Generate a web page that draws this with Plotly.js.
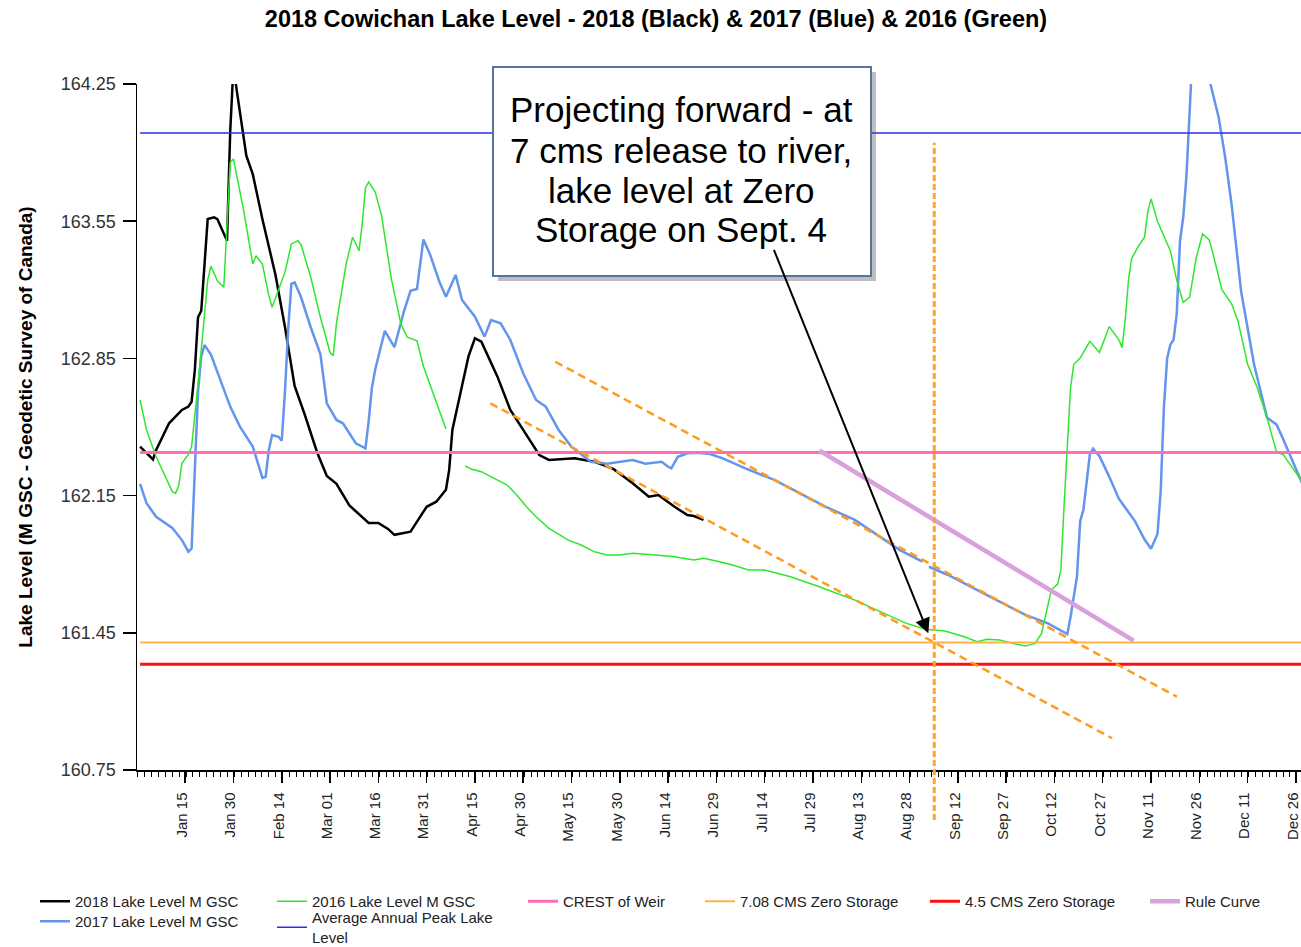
<!DOCTYPE html>
<html><head><meta charset="utf-8">
<script src="https://cdn.plot.ly/plotly-3.0.1.min.js"></script>
<style>html,body{margin:0;padding:0;background:#fff}#chart{width:1301px;height:947px}</style>
</head><body><div id="chart"></div>
<script>
// ---- data (day index from Jan 1, level in m GSC) ----
const days2018 = [0,4,5,9,13,15,16,17,18,19,21,23,24,26,27,28,29,30,31,32,33,35,38,42,45,48,51,55,58,61,65,71,74,77,79,84,86,89,92,95,96,97,100,102,104,106,111,115,119,124,127,135,141,147,153,158,161,166,170,172,175];
const level2018 = [162.40,162.335,162.383,162.519,162.587,162.604,162.629,162.79,163.06,163.093,163.561,163.57,163.561,163.49,163.45,164.01,164.34,164.22,164.11,163.99,163.884,163.79,163.56,163.28,163.01,162.71,162.57,162.37,162.25,162.21,162.10,162.01,162.01,161.98,161.95,161.966,162.017,162.093,162.119,162.18,162.28,162.485,162.71,162.86,162.953,162.935,162.757,162.587,162.485,162.357,162.332,162.34,162.323,162.286,162.213,162.144,162.153,162.093,162.051,162.046,162.026];

const days2017 = [0,2,5,8,10,13,15,16,17,18,19,20,22,25,28,31,35,38,39,40,41,43,44,45,46,47,48,50,53,56,58,61,63,67,70,71,72,73,76,79,82,84,86,88,90,93,95,98,100,104,107,109,112,115,119,123,126,130,134,138,140,145,149,153,157,162,164,165,167,170,173,177,181,188,197,205,213,222,230,236,243,244,245,251,259,267,275,282,288,289,291,292,293,295,296,298,301,304,309,312,314,316,317,318,319,320,321,322,323,324,325,326,327,328,329,330,331,332,333,335,337,339,342,346,350,353,355,357,361,364];
const level2017 = [162.21,162.111,162.042,162.01,161.985,161.923,161.864,161.88,162.25,162.68,162.86,162.918,162.87,162.74,162.604,162.502,162.40,162.24,162.246,162.383,162.459,162.45,162.43,162.68,163.0,163.23,163.238,163.162,163.009,162.872,162.621,162.536,162.519,162.417,162.391,162.53,162.70,162.791,162.99,162.907,163.093,163.195,163.204,163.457,163.383,163.24,163.165,163.276,163.148,163.063,162.961,163.046,163.029,162.944,162.774,162.638,162.604,162.485,162.399,162.348,162.323,162.313,162.323,162.332,162.313,162.323,162.297,162.289,162.348,162.366,162.369,162.362,162.34,162.289,162.23,162.162,162.093,162.026,161.94,161.872,161.813,null,161.787,161.745,161.677,161.609,161.541,161.498,161.444,161.53,161.737,162.02,162.077,162.36,162.389,162.351,162.247,162.134,162.02,161.926,161.879,161.954,162.17,162.60,162.85,162.92,162.945,163.08,163.45,163.57,163.78,164.11,164.45,164.54,164.47,164.41,164.34,164.28,164.21,164.08,163.88,163.64,163.19,162.82,162.549,162.512,162.44,162.36,162.21,162.10];

const days2016 = [0,2,5,9,10,11,12,13,15,16,17,18,20,21,22,24,26,27,28,29,30,32,35,36,38,40,41,43,45,47,49,50,53,56,59,60,61,64,66,68,69,70,71,73,75,78,81,83,86,88,91,95,98,101,103,106,110,114,117,120,123,127,133,137,141,145,149,153,160,166,172,175,179,184,189,194,202,211,222,230,238,244,250,256,260,263,267,271,275,278,280,282,283,285,286,287,288,289,290,292,295,298,301,304,305,306,307,308,310,312,313,314,316,318,320,322,324,326,328,330,332,333,336,339,341,344,347,350,353,355,358,361,364];
const level2016 = [162.638,162.485,162.348,162.21,162.17,162.162,162.20,162.315,162.36,162.40,162.55,162.72,163.07,163.25,163.32,163.246,163.213,163.55,163.85,163.867,163.79,163.62,163.332,163.374,163.33,163.17,163.111,163.2,163.29,163.434,163.45,163.43,163.264,163.06,162.88,162.864,163.03,163.332,163.468,163.399,163.536,163.72,163.75,163.70,163.58,163.26,163.026,162.958,162.94,162.81,162.672,162.49,null,162.301,162.284,162.272,162.238,162.204,162.153,162.093,162.042,161.983,161.923,161.898,161.864,161.847,161.847,161.856,161.847,161.838,161.821,161.83,161.816,161.796,161.77,161.77,161.736,161.685,161.617,161.558,161.498,161.468,161.459,161.43,161.405,161.417,161.413,161.396,161.383,161.396,161.447,161.592,161.668,161.699,161.77,162.10,162.40,162.70,162.82,162.852,162.937,162.88,163.012,162.946,162.905,163.05,163.25,163.36,163.42,163.47,163.60,163.664,163.55,163.475,163.399,163.248,163.135,163.163,163.36,163.485,163.456,163.40,163.201,163.13,163.041,162.82,162.70,162.549,162.37,162.36,162.29,162.22,162.12];

const refLineDates = ['2018-01-01', '2018-12-31'];
const avgPeakLevel = 164.0;
const crestLevel = 162.37;
const zeroStorage708Level = 161.40;
const zeroStorage45Level = 161.29;
const ruleCurveDates = ['2018-07-31', '2018-11-05T14:00'];
const ruleCurveLevels = [162.38, 161.41];
const projLowDates = ['2018-04-19T19:00', '2018-10-29T22:00'];
const projLowLevels = [162.621, 160.912];
const projHighDates = ['2018-05-09T23:00', '2018-11-19T01:00'];
const projHighLevels = [162.833, 161.124];
const zeroStorageDate = '2018-09-04T16:00';

const yTickStart = 160.75, yTickStep = 0.7, yRange = [160.75, 164.25];
const xRange = ['2017-12-31T01:00', '2018-12-27T14:00'];

const titleText = '2018 Cowichan Lake Level - 2018 (Black) &amp; 2017 (Blue) &amp; 2016 (Green)';
const yTitle = 'Lake Level (M GSC - Geodetic Survey of Canada)';
const noteLines = ['Projecting forward - at', '7 cms release to river,', 'lake level at Zero', 'Storage on Sept. 4'];

// ---- helpers ----
const DAY = 86400000;
function dayToDate(d) { return new Date(Date.UTC(2018, 0, 1) + d * DAY).toISOString().slice(0, 10); }

const FONT = 'Liberation Sans, Arial, sans-serif';
const W = 1301, H = 947, ML = 137, MR = 0, MT = 84, MB = 177;
const PW = W - ML - MR, PH = H - MT - MB;
const px = x => (x - ML) / PW;       // pixel -> paper x
const py = y => (H - MB - y) / PH;   // pixel -> paper y

function line(name, x, y, color, width, legend, extra) {
  return Object.assign({type: 'scatter', mode: 'lines', name: name, x: x, y: y,
    line: {color: color, width: width}, legend: legend, hoverinfo: 'skip'}, extra || {});
}

const traces = [
  line('2018 Lake Level M GSC', days2018.map(dayToDate), level2018, '#000000', 2.5, 'legend'),
  line('2017 Lake Level M GSC', days2017.map(dayToDate), level2017, '#6495ed', 2.5, 'legend2'),
  line('2016 Lake Level M GSC', days2016.map(dayToDate), level2016, '#2ee62e', 1.5, 'legend3'),
  line('Average Annual Peak Lake<br>Level', refLineDates, [avgPeakLevel, avgPeakLevel], '#2b2bf0', 1.6, 'legend4'),
  line('CREST of Weir', refLineDates, [crestLevel, crestLevel], '#ff6eb4', 3, 'legend5'),
  line('7.08 CMS Zero Storage', refLineDates, [zeroStorage708Level, zeroStorage708Level], '#ffb347', 2, 'legend6'),
  line('4.5 CMS Zero Storage', refLineDates, [zeroStorage45Level, zeroStorage45Level], '#ff1010', 3, 'legend7'),
  line('Rule Curve', ruleCurveDates, ruleCurveLevels, '#d9a0dd', 4.5, 'legend8'),
  line('Projection A', projLowDates, projLowLevels, '#ff9c1f', 2.5, 'legend', {showlegend: false, line: {color: '#ff9c1f', width: 2.5, dash: '8px,5px'}}),
  line('Projection B', projHighDates, projHighLevels, '#ff9c1f', 2.5, 'legend', {showlegend: false, line: {color: '#ff9c1f', width: 2.5, dash: '8px,5px'}})
];

// legend item centre (pixels) -> legend box top; single-line items sit 16px below the top
function legendAt(xPix, centreY, lines) {
  const top = centreY - 6.25 - 9.75 * (lines || 1);
  return {x: px(xPix), y: py(top), xanchor: 'left', yanchor: 'top', orientation: 'v',
    bgcolor: 'rgba(0,0,0,0)', borderwidth: 0, itemwidth: 30, tracegroupgap: 0,
    font: {family: FONT, size: 15, color: '#222'}};
}
const row1 = 901, row2 = 921;

const annotations = noteLines.map((t, i) => ({
  xref: 'paper', yref: 'paper', x: px(681), y: py(110 + 40 * i), xanchor: 'center', yanchor: 'middle',
  text: t, showarrow: false, font: {family: FONT, size: 35, color: '#000'}
}));
annotations.push({
  xref: 'paper', yref: 'paper', x: px(928.3), y: py(633.3), ax: -155, ay: -385,
  text: '', showarrow: true, arrowhead: 2, arrowsize: 1.5, arrowwidth: 2, arrowcolor: '#000', standoff: 0
});

const shapes = [
  {type: 'line', xref: 'x', yref: 'paper', x0: zeroStorageDate, x1: zeroStorageDate, y0: py(820), y1: py(142.7),
   line: {color: '#ffa42a', width: 3, dash: '6px,3px'}, layer: 'above'},
  {type: 'rect', xref: 'paper', yref: 'paper', x0: px(498), x1: px(876), y0: py(281), y1: py(72),
   fillcolor: 'rgba(70,70,70,0.35)', line: {width: 0}, layer: 'above'},
  {type: 'rect', xref: 'paper', yref: 'paper', x0: px(493), x1: px(871), y0: py(276), y1: py(67),
   fillcolor: '#ffffff', line: {color: '#56739f', width: 2}, layer: 'above'}
];

const layout = {
  width: W, height: H,
  margin: {l: ML, r: MR, t: MT, b: MB, pad: 0, autoexpand: false},
  paper_bgcolor: '#ffffff', plot_bgcolor: '#ffffff',
  font: {family: FONT, color: '#222'},
  title: {text: '<b>' + titleText + '</b>', x: 656 / W, xref: 'container', xanchor: 'center',
    y: 1 - 19 / H, yref: 'container', yanchor: 'middle', font: {family: FONT, size: 23.5, color: '#000'}},
  xaxis: {
    type: 'date', range: xRange, autorange: false,
    tick0: '2018-01-15', dtick: 15 * DAY, tickformat: '%b %d', tickangle: -90,
    ticks: 'outside', ticklen: 11, tickwidth: 1.5, tickcolor: '#000',
    ticklabelstandoff: 4, ticklabelshift: -3, ticklabeloverflow: 'allow',
    minor: {dtick: 15 * DAY / 7, ticks: 'outside', ticklen: 5, tickwidth: 1, tickcolor: '#000', showgrid: false},
    tickfont: {family: FONT, size: 15, color: '#222'},
    showline: true, linecolor: '#000', linewidth: 1.5, showgrid: false, zeroline: false, automargin: false
  },
  yaxis: {
    range: yRange, autorange: false, tick0: yTickStart, dtick: yTickStep, tickformat: '.2f',
    ticks: 'outside', ticklen: 13, tickwidth: 1.5, tickcolor: '#000', ticklabelstandoff: 3,
    tickfont: {family: FONT, size: 18, color: '#333'},
    showline: true, linecolor: '#000', linewidth: 1.5, showgrid: false, zeroline: false, automargin: false,
    title: {text: '<b>' + yTitle + '</b>', standoff: 23, font: {family: FONT, size: 19, color: '#000'}}
  },
  legend: legendAt(35, row1),
  legend2: legendAt(35, row2),
  legend3: legendAt(272, row1),
  legend4: legendAt(272, 927, 2),
  legend5: legendAt(523, row1),
  legend6: legendAt(700, row1),
  legend7: legendAt(925, row1),
  legend8: legendAt(1145, row1),
  shapes: shapes,
  annotations: annotations,
  showlegend: true
};

Plotly.newPlot('chart', traces, layout, {displayModeBar: false, staticPlot: true});
</script>
</body></html>
